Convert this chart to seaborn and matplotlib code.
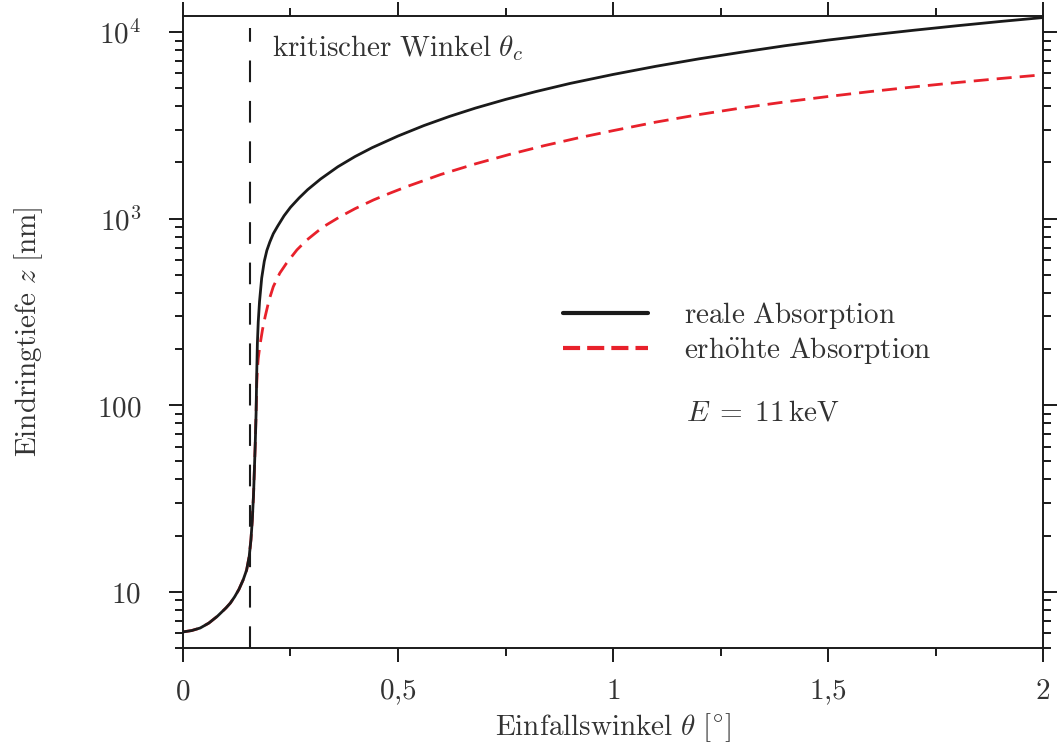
import numpy as np
import pandas as pd
import matplotlib
matplotlib.use("Agg")
import matplotlib.pyplot as plt
import seaborn as sns
from matplotlib.lines import Line2D
from matplotlib.ticker import FixedLocator, FixedFormatter, LogLocator, NullFormatter, MultipleLocator

# Werte aus der Abbildung abgelesen
# gemeinsamer Verlauf bis knapp ueber den kritischen Winkel
theta_low = [0.0, 0.02, 0.04, 0.06, 0.08, 0.10, 0.11, 0.12, 0.13, 0.14, 0.148,
             0.154, 0.158, 0.161, 0.164, 0.166, 0.168, 0.170]
z_low = [6.1, 6.2, 6.4, 6.8, 7.4, 8.2, 8.7, 9.4, 10.3, 11.6, 13.1,
         15.5, 19, 24, 33, 45, 62, 91]

# reale Absorption
theta_real = [0.1715, 0.173, 0.175, 0.178, 0.183, 0.189, 0.195, 0.202, 0.210, 0.22,
              0.235, 0.25, 0.27, 0.29, 0.32, 0.36, 0.40, 0.44, 0.50, 0.56, 0.62,
              0.68, 0.75, 0.82, 0.90, 1.0, 1.1, 1.2, 1.3, 1.4, 1.5, 1.6, 1.7,
              1.8, 1.9, 2.0]
z_real = [150, 215, 280, 360, 480, 590, 675, 750, 830, 910,
          1035, 1150, 1290, 1430, 1630, 1895, 2150, 2400, 2770, 3150, 3530,
          3910, 4350, 4790, 5300, 5920, 6550, 7180, 7800, 8440, 9050, 9640, 10220,
          10800, 11380, 11950]

# erhoehte Absorption
theta_high = [0.1715, 0.173, 0.175, 0.179, 0.185, 0.191, 0.200, 0.210, 0.225, 0.241,
              0.265, 0.288, 0.325, 0.365, 0.40, 0.443, 0.48, 0.52, 0.60, 0.68,
              0.76, 0.84, 0.92, 1.0, 1.1, 1.2, 1.3, 1.4, 1.5, 1.6, 1.7, 1.8,
              1.9, 2.0]
z_high = [130, 155, 178, 210, 255, 298, 365, 432, 510, 578,
          680, 768, 900, 1023, 1130, 1259, 1365, 1483, 1725, 1965,
          2210, 2460, 2710, 2960, 3290, 3610, 3920, 4220, 4510, 4800, 5080, 5360,
          5630, 5900]

theta_c = 0.156
x_ticks = [0, 0.5, 1, 1.5, 2]
x_labels = ["$0$", "$0{,}5$", "$1$", "$1{,}5$", "$2$"]
y_ticks = [10, 100, 1000, 10000]
y_labels = ["$10$", "$100$", "$10^3$", "$10^4$"]

df_real = pd.DataFrame({"theta": theta_low + theta_real, "z": z_low + z_real})
df_high = pd.DataFrame({"theta": theta_low + theta_high, "z": z_low + z_high})

sns.set_style("ticks")
plt.rcParams["mathtext.fontset"] = "cm"
plt.rcParams["font.family"] = ["DejaVu Serif"]

BLACK = "#1a1a1a"
RED = "#e8212b"
TXT = "#333333"
FS = 21

fig = plt.figure(figsize=(10.59, 7.55), dpi=100)
ax = fig.add_axes([0.1728, 0.1417, 0.8121, 0.8371])

sns.lineplot(data=df_high, x="theta", y="z", ax=ax, color=RED, lw=2.0,
             sort=False, estimator=None)
ax.lines[-1].set_dashes((5.4, 2.9))
sns.lineplot(data=df_real, x="theta", y="z", ax=ax, color=BLACK, lw=2.0,
             sort=False, estimator=None)

# kritischer Winkel
ax.vlines(theta_c, 5, 10500, color=BLACK, lw=1.5, linestyles=(0, (10.4, 9)))

ax.set_yscale("log")
ax.set_xlim(0, 2)
ax.set_ylim(5, 12180)

ax.xaxis.set_major_locator(FixedLocator(x_ticks))
ax.xaxis.set_major_formatter(FixedFormatter(x_labels))
ax.xaxis.set_minor_locator(MultipleLocator(0.25))
ax.yaxis.set_major_locator(FixedLocator(y_ticks))
ax.yaxis.set_major_formatter(FixedFormatter(y_labels))
ax.yaxis.set_minor_locator(LogLocator(base=10, subs=np.arange(2, 10)))
ax.yaxis.set_minor_formatter(NullFormatter())

ax.tick_params(which="both", direction="out", top=True, right=True, width=1.4,
               colors=BLACK, labelcolor=TXT)
ax.tick_params(which="major", length=10)
ax.tick_params(which="minor", length=5.5)
ax.tick_params(axis="x", which="major", labelsize=FS, pad=11)
ax.tick_params(axis="y", which="major", labelsize=FS, pad=20)
for s in ax.spines.values():
    s.set_linewidth(1.4)
    s.set_color(BLACK)

ax.set_xlabel(r"$\mathrm{Einfallswinkel}\ \theta\ [{}^{\circ}]$", fontsize=FS, color=TXT)
ax.set_ylabel(r"$\mathrm{Eindringtiefe}\ z\ [\mathrm{nm}]$", fontsize=FS, color=TXT)
ax.xaxis.set_label_coords(0.5, -0.10)
ax.yaxis.set_label_coords(-0.16, 0.5)

ax.text(0.207, 8200, r"$\mathrm{kritischer\ Winkel}\ \theta_c$", fontsize=FS,
        va="center", ha="left", color=TXT)

handles = [Line2D([], [], color=BLACK, lw=3.0),
           Line2D([], [], color=RED, lw=3.0, dashes=(4.1, 1.7))]
labels = [r"$\mathrm{reale\ Absorption}$", r"$\mathrm{erh\ddot{o}hte\ Absorption}$"]
leg = ax.legend(handles, labels, loc="upper left", bbox_to_anchor=(0.442, 0.550),
                frameon=False, fontsize=FS, handlelength=2.9, handletextpad=1.25,
                borderpad=0, borderaxespad=0, labelspacing=0.12)
for t in leg.get_texts():
    t.set_color(TXT)

ax.text(0.585, 0.373, r"$E\;=\;11\,\mathrm{keV}$", transform=ax.transAxes, fontsize=FS,
        va="center", ha="left", color=TXT)

fig.savefig("out.png", dpi=100)
